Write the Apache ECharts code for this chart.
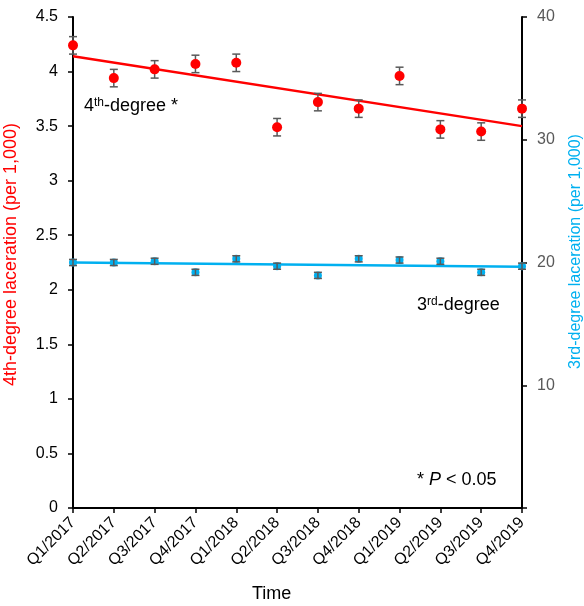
<!DOCTYPE html>
<html><head><meta charset="utf-8">
<script src="https://cdn.jsdelivr.net/npm/echarts@6/dist/echarts.min.js"></script>
<style>html,body{margin:0;padding:0;background:#fff}#c{width:584px;height:606px}</style>
</head><body><div id="c"></div>
<script>
var categories = ['Q1/2017','Q2/2017','Q3/2017','Q4/2017','Q1/2018','Q2/2018','Q3/2018','Q4/2018','Q1/2019','Q2/2019','Q3/2019','Q4/2019'];
var fourth = [4.24,3.94,4.02,4.07,4.08,3.49,3.72,3.66,3.96,3.47,3.45,3.66];
var fourthErr = [0.08,0.08,0.08,0.08,0.08,0.08,0.08,0.08,0.08,0.08,0.08,0.08];
var fourthTrend = [4.14,3.50];
var third = [20.0,20.0,20.1,19.2,20.3,19.7,18.95,20.3,20.2,20.1,19.2,19.7];
var thirdErr = [0.25,0.25,0.25,0.25,0.25,0.25,0.25,0.25,0.25,0.25,0.25,0.25];
var thirdTrend = [20.0,19.65];

var RED = '#FF0000', BLUE = '#00B0F0', GREY = '#595959';
var FONT = '"Liberation Sans", Arial, sans-serif';

function errSeries(vals, errs, yIdx, z) {
  return {
    type: 'custom', yAxisIndex: yIdx, z: z,
    data: vals.map(function(v, i){ return [i, v - errs[i], v + errs[i]]; }),
    renderItem: function(params, api) {
      var x = api.value(0);
      var lo = api.coord([x, api.value(1)]);
      var hi = api.coord([x, api.value(2)]);
      var w = 4;
      var st = {stroke: GREY, lineWidth: 1.5};
      return {type: 'group', children: [
        {type: 'line', shape: {x1: lo[0], y1: lo[1], x2: hi[0], y2: hi[1]}, style: st},
        {type: 'line', shape: {x1: lo[0]-w, y1: lo[1], x2: lo[0]+w, y2: lo[1]}, style: st},
        {type: 'line', shape: {x1: hi[0]-w, y1: hi[1], x2: hi[0]+w, y2: hi[1]}, style: st}
      ]};
    }
  };
}

var richBase = {
  a: {fontSize: 18, fontFamily: FONT, fill: '#000'},
  s: {fontSize: 12, fontFamily: FONT, fill: '#000', verticalAlign: 'top', padding: [0,0,7,0]},
  i: {fontSize: 18, fontFamily: FONT, fontStyle: 'italic', fill: '#000'}
};

var chart = echarts.init(document.getElementById('c'));
chart.setOption({
  animation: false,
  textStyle: {fontFamily: FONT},
  grid: {left: 73, right: 62, top: 17, bottom: 98, outerBoundsMode: 'none', containLabel: false},
  xAxis: {
    type: 'category', data: categories, boundaryGap: false,
    axisLine: {lineStyle: {color: '#000', width: 2}},
    axisTick: {show: true, alignWithLabel: true, length: 5, lineStyle: {color: '#000', width: 1.5}},
    axisLabel: {rotate: 45, color: '#000', fontSize: 16, interval: 0, margin: 12, padding: [8,0,0,0], fontFamily: FONT},
    splitLine: {show: false}
  },
  yAxis: [{
    type: 'value', min: 0, max: 4.5, interval: 0.5, position: 'left',
    name: '4th-degree laceration (per 1,000)', nameLocation: 'middle', nameGap: 53, nameRotate: 90,
    nameTextStyle: {color: RED, fontSize: 18, fontFamily: FONT, padding: [0,0,0,16]},
    axisLine: {show: true, lineStyle: {color: '#000', width: 2}},
    axisTick: {show: true, length: 5, lineStyle: {color: '#000', width: 1.5}},
    axisLabel: {color: '#000', fontSize: 16, margin: 15, fontFamily: FONT},
    splitLine: {show: false}
  }, {
    type: 'value', min: 0, max: 40, interval: 10, position: 'right',
    name: '3rd-degree laceration (per 1,000)', nameLocation: 'middle', nameGap: 46, nameRotate: 90,
    nameTextStyle: {color: BLUE, fontSize: 16, fontFamily: FONT, padding: [0,0,0,22]},
    axisLine: {show: true, lineStyle: {color: '#000', width: 2}},
    axisTick: {show: true, length: 5, lineStyle: {color: '#000', width: 1.5}},
    axisLabel: {color: GREY, fontSize: 16, margin: 15, fontFamily: FONT,
      formatter: function(v){ return v === 0 ? '' : v; }},
    splitLine: {show: false}
  }],
  series: [
    {type: 'line', yAxisIndex: 0, z: 3, symbol: 'none', lineStyle: {color: RED, width: 2.5},
      data: [[0, fourthTrend[0]], [categories.length - 1, fourthTrend[1]]]},
    errSeries(fourth, fourthErr, 0, 4),
    {type: 'scatter', yAxisIndex: 0, z: 5, symbolSize: 10, itemStyle: {color: RED, opacity: 1},
      data: fourth},
    {type: 'line', yAxisIndex: 1, z: 3, symbol: 'none', lineStyle: {color: BLUE, width: 2.5},
      data: [[0, thirdTrend[0]], [categories.length - 1, thirdTrend[1]]]},
    {type: 'scatter', yAxisIndex: 1, z: 5, symbolSize: 8, itemStyle: {color: BLUE, opacity: 1},
      data: third},
    errSeries(third, thirdErr, 1, 6)
  ],
  graphic: [
    {type: 'text', left: 84, top: 97, z: 10, style: {text: '{a|4}{s|th}{a|-degree *}', rich: richBase}},
    {type: 'text', left: 417, top: 296, z: 10, style: {text: '{a|3}{s|rd}{a|-degree}', rich: richBase}},
    {type: 'text', left: 417, top: 471, z: 10, style: {text: '{a|* }{i|P}{a| < 0.05}', rich: richBase}},
    {type: 'text', left: 252, top: 585, z: 10, style: {text: 'Time', fontSize: 18, fontFamily: FONT, fill: '#000'}}
  ]
});
</script>
</body></html>
